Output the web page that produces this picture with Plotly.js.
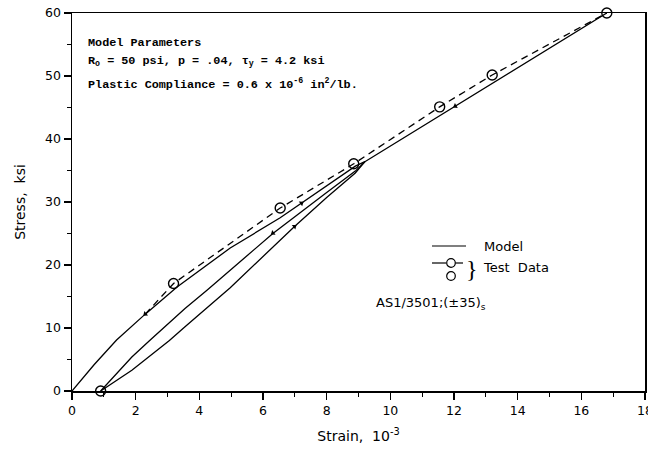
<!DOCTYPE html>
<html>
<head>
<meta charset="utf-8">
<script src="https://cdn.plot.ly/plotly-3.0.1.min.js"></script>
<style>html,body{margin:0;padding:0;background:#fff;}#chart{width:648px;height:449px;}</style>
</head>
<body>
<div id="chart"></div>
<script>
// Model curve: initial loading branch (from origin) and common upper branch
const modelAX = [0, 0.7, 1.4, 2.3, 3.3, 4.97, 6.54, 7.21, 8.0, 8.9, 9.2, 9.91, 12.04, 13.2, 16.8];
const modelAY = [0, 4.2, 8.1, 12.2, 16.5, 22.7, 27.5, 29.8, 32.5, 35.7, 36.4, 38.6, 45.2, 48.8, 60.0];
// Model curve: straight branch from residual strain
const modelBX = [0.9, 1.88, 2.44, 2.92, 3.55, 4.24, 6.31, 8.0, 8.9, 9.2];
const modelBY = [0, 5.4, 8.0, 10.2, 13.1, 16.0, 25.0, 31.5, 34.9, 36.4];
// Model curve: lower branch from residual strain
const modelCX = [0.9, 1.88, 3.06, 3.55, 4.97, 5.92, 6.99, 8.0, 8.9, 9.2];
const modelCY = [0, 3.3, 8.0, 10.2, 16.4, 20.9, 26.1, 30.7, 34.6, 36.4];
// Test data (open circles)
const testX = [0.9, 3.19, 6.54, 8.85, 11.55, 13.2, 16.8];
const testY = [0, 17.07, 29.04, 36.06, 45.1, 50.16, 60.0];
// Dashed fit through test data
const dashX = [2.3, 3.19, 6.54, 8.85, 11.55, 13.2, 16.8];
const dashY = [12.2, 17.07, 29.04, 36.06, 45.1, 50.16, 60.0];
// Direction arrows on the model curves
const arrowX = [2.3, 7.21, 6.31, 6.99, 12.04];
const arrowY = [12.2, 29.8, 25.05, 26.1, 45.2];
const arrowAngle = [230, 55, 235, 52, 240];

const xTicks = [0, 2, 4, 6, 8, 10, 12, 14, 16, 18];
const yTicks = [0, 10, 20, 30, 40, 50, 60];

const paramLines = [
  "Model Parameters",
  "R<sub>o</sub> = 50 psi, p = .04, \u03c4<sub>y</sub> = 4.2 ksi",
  "Plastic Compliance = 0.6 x 10<sup>-6</sup> in<sup>2</sup>/lb."
];
const legendModel = "Model";
const legendTest = "Test  Data";
const materialLabel = "AS1/3501;(\u00b135)<sub>s</sub>";

const L = {l: 72, r: 3, t: 13, b: 58};
const W = 648, H = 449;
const pw = W - L.l - L.r, ph = H - L.t - L.b;
const px = v => (v - L.l) / pw;
const py = v => (H - L.b - v) / ph;

const lineStyle = {color: '#000', width: 1.3};
const traces = [
  {x: modelAX, y: modelAY, mode: 'lines', line: lineStyle, hoverinfo: 'skip', cliponaxis: false},
  {x: modelBX, y: modelBY, mode: 'lines', line: lineStyle, hoverinfo: 'skip'},
  {x: modelCX, y: modelCY, mode: 'lines', line: lineStyle, hoverinfo: 'skip'},
  {x: dashX, y: dashY, mode: 'lines', line: {color: '#000', width: 1.3, dash: '7px,5px'}, hoverinfo: 'skip', cliponaxis: false},
  {x: testX, y: testY, mode: 'markers', marker: {symbol: 'circle-open', size: 10, color: '#000', line: {width: 1.4, color: '#000'}}, cliponaxis: false, hoverinfo: 'skip'},
  {x: arrowX, y: arrowY, mode: 'markers', marker: {symbol: 'triangle-up', size: 5, color: '#000', angle: arrowAngle}, hoverinfo: 'skip'}
];

const sans = 'DejaVu Sans, Liberation Sans, sans-serif';
const monoFont = {family: 'Liberation Mono, Courier New, monospace', size: 11.8, color: '#000', weight: 'bold'};

const annotations = [];
const paramY = [43, 61, 84];
paramLines.forEach((t, i) => annotations.push({
  xref: 'paper', yref: 'paper', x: px(86), y: py(paramY[i]), xanchor: 'left', yanchor: 'middle',
  text: t, showarrow: false, font: monoFont
}));
const legFont = {family: sans, size: 13, color: '#000'};
annotations.push({xref: 'paper', yref: 'paper', x: px(482), y: py(246), xanchor: 'left', yanchor: 'middle', text: legendModel, showarrow: false, font: legFont});
annotations.push({xref: 'paper', yref: 'paper', x: px(481), y: py(267), xanchor: 'left', yanchor: 'middle', text: legendTest, showarrow: false, font: legFont});
annotations.push({xref: 'paper', yref: 'paper', x: px(472), y: py(269), xanchor: 'center', yanchor: 'middle', text: '}', showarrow: false, font: {family: 'Liberation Serif, serif', size: 24, color: '#000'}});
annotations.push({xref: 'paper', yref: 'paper', x: px(374), y: py(303), xanchor: 'left', yanchor: 'middle', text: materialLabel, showarrow: false, font: legFont});

const r = 4.3;
const shapes = [
  {type: 'line', xref: 'paper', yref: 'paper', x0: px(432), x1: px(466), y0: py(246), y1: py(246), line: {color: '#000', width: 1.2}},
  {type: 'line', xref: 'paper', yref: 'paper', x0: px(432), x1: px(446), y0: py(263), y1: py(263), line: {color: '#000', width: 1.2}},
  {type: 'line', xref: 'paper', yref: 'paper', x0: px(455.5), x1: px(463), y0: py(263), y1: py(263), line: {color: '#000', width: 1.2}},
  {type: 'circle', xref: 'paper', yref: 'paper', x0: px(451 - r), x1: px(451 + r), y0: py(263 - r), y1: py(263 + r), line: {color: '#000', width: 1.2}},
  {type: 'circle', xref: 'paper', yref: 'paper', x0: px(451 - r), x1: px(451 + r), y0: py(276 - r), y1: py(276 + r), line: {color: '#000', width: 1.2}}
];

const layout = {
  width: W, height: H, margin: L,
  paper_bgcolor: '#fff', plot_bgcolor: '#fff',
  showlegend: false, font: {family: sans, size: 13, color: '#000'},
  xaxis: {
    range: [0, 18], tickvals: xTicks, ticktext: xTicks.map(String),
    ticks: 'outside', ticklen: 7, tickwidth: 1.2, tickcolor: '#000', ticklabeloverflow: 'allow',
    minor: {dtick: 1, ticks: 'outside', ticklen: 4, tickcolor: '#000', tickwidth: 1},
    showgrid: false, zeroline: false, showline: true, linecolor: '#000', linewidth: 1.5, mirror: true,
    tickfont: {family: sans, size: 12.5, color: '#000'},
    title: {text: 'Strain,  10<sup>-3</sup>', font: {family: sans, size: 14, color: '#000'}, standoff: 14}
  },
  yaxis: {
    range: [0, 60], tickvals: yTicks, ticktext: yTicks.map(String),
    ticks: 'outside', ticklen: 7, tickwidth: 1.2, tickcolor: '#000',
    minor: {dtick: 5, ticks: 'outside', ticklen: 4, tickcolor: '#000', tickwidth: 1},
    showgrid: false, zeroline: false, showline: true, linecolor: '#000', linewidth: 1.5, mirror: true,
    tickfont: {family: sans, size: 12.5, color: '#000'},
    title: {text: 'Stress,  ksi', font: {family: sans, size: 14, color: '#000'}, standoff: 16}
  },
  annotations: annotations,
  shapes: shapes
};

Plotly.newPlot('chart', traces, layout, {staticPlot: true, displayModeBar: false});
</script>
</body>
</html>
